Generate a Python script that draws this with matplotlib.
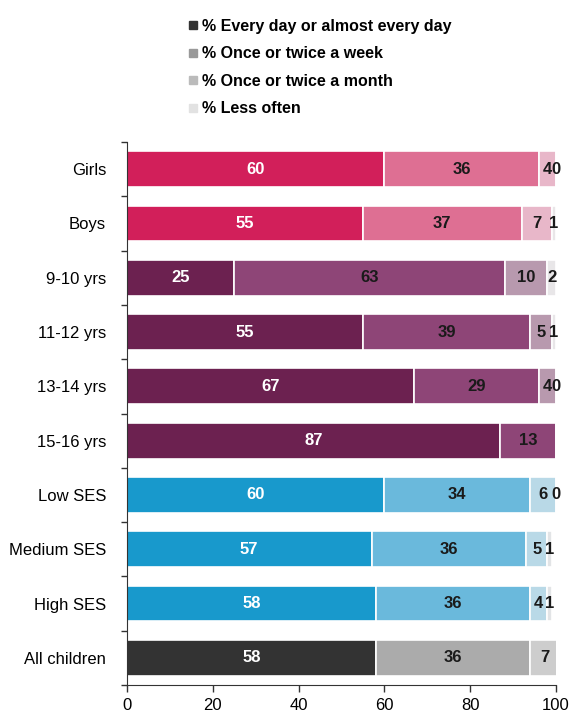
import matplotlib
matplotlib.use("Agg")
import matplotlib.pyplot as plt
from matplotlib.lines import Line2D
import numpy as np

plt.rcParams['font.family'] = ['Liberation Sans', 'DejaVu Sans']

categories = ["Girls", "Boys", "9-10 yrs", "11-12 yrs", "13-14 yrs", "15-16 yrs",
              "Low SES", "Medium SES", "High SES", "All children"]
daily   = [60, 55, 25, 55, 67, 87, 60, 57, 58, 58]
weekly  = [36, 37, 63, 39, 29, 13, 34, 36, 36, 36]
monthly = [4, 7, 10, 5, 4, np.nan, 6, 5, 4, 7]
less    = [0, 1, 2, 1, 0, np.nan, 0, 1, 1, np.nan]
series_names = ["% Every day or almost every day", "% Once or twice a week",
                "% Once or twice a month", "% Less often"]
groups = ["gender", "gender", "age", "age", "age", "age", "ses", "ses", "ses", "all"]
palette = {
    "gender": ['#D21F5A', '#DE6F93', '#E8B7C9', '#E9E6E8'],
    "age":    ['#6C2150', '#8E4577', '#B899AE', '#E8E6E8'],
    "ses":    ['#1899CC', '#6AB9DC', '#B9D9E7', '#E2E4E6'],
    "all":    ['#333333', '#ABABAB', '#CDCDCD', '#E6E6E6'],
}
legend_colors = ['#333333', '#999999', '#BBBBBB', '#E2E2E2']

fig = plt.figure(figsize=(5.71, 7.14), dpi=100)
ax = fig.add_axes([127/571, 1-685/714, (556-127)/571, (685-142)/714])

data = [daily, weekly, monthly, less]
n = len(categories)
y = np.arange(n)
left = np.zeros(n)
for s, vals in enumerate(data):
    vals = np.array(vals, dtype=float)
    colors = [palette[g][s] for g in groups]
    w = np.nan_to_num(vals)
    ax.barh(y, w, left=left, height=0.66, color=colors, edgecolor='white', linewidth=1.2)
    for i in range(n):
        if np.isnan(vals[i]):
            continue
        cx = left[i] + w[i] / 2
        ax.text(cx, y[i], f"{int(vals[i])}", ha='center', va='center',
                fontsize=12, fontweight='bold',
                color='white' if s == 0 else '#1a1a1a')
    left += w

ax.set_ylim(n - 0.5, -0.5)
ax.set_xlim(0, 100)
ax.set_yticks(y)
ax.set_yticklabels(categories, fontsize=12)
ax.tick_params(axis='y', length=0, pad=15)
ax.set_yticks(np.arange(-0.5, n, 1), minor=True)
ax.tick_params(axis='y', which='minor', length=4, direction='out', width=1, color='#333333')
ax.set_xticks([0, 20, 40, 60, 80, 100])
ax.tick_params(axis='x', length=5, direction='out', labelsize=12, width=1, color='#333333', pad=4)
for sp in ['top', 'right']:
    ax.spines[sp].set_visible(False)
ax.spines['left'].set_color('#333333')
ax.spines['bottom'].set_color('#333333')

handles = [Line2D([0], [0], marker='s', linestyle='none', markersize=6,
                  markerfacecolor=c, markeredgecolor=c) for c in legend_colors]
fig.legend(handles, series_names, loc='upper left', bbox_to_anchor=(188/571, 1-19/714),
           frameon=False, handlelength=0.6, handletextpad=0.3, labelspacing=0.78,
           prop={'size': 11.5, 'weight': 'bold'}, borderaxespad=0, borderpad=0)

fig.savefig("out.png", dpi=100)
